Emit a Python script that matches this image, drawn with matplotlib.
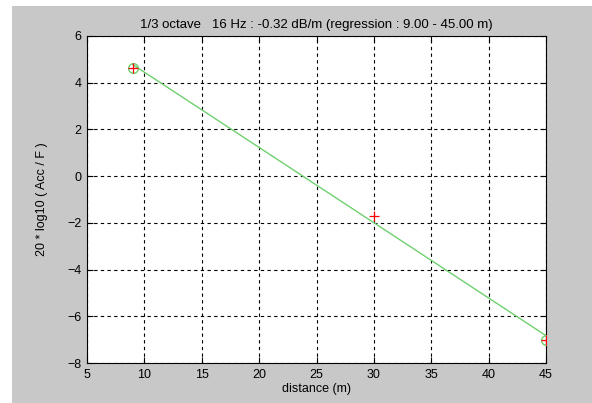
#!/usr/bin/env python

"""Attenuation with distance, 1/3 octave band 16 Hz."""

import numpy as np
import matplotlib.pyplot as plt
from matplotlib.patches import Rectangle

plt.rcParams['font.family'] = ['Liberation Sans', 'DejaVu Sans']
plt.rcParams['font.size'] = 9

# measured levels
distance = np.array([9.0, 30.0, 45.0])
level = np.array([4.65, -1.7, -7.0])

# regression range
reg_lo, reg_hi = 9.0, 45.0

xticks = [5, 10, 15, 20, 25, 30, 35, 40, 45]
yticks = [-8, -6, -4, -2, 0, 2, 4, 6]


def main():
    fig = plt.figure(figsize=(5.92, 4.03), dpi=100, facecolor='white')

    # grey window background with a thin white border on top and left
    fig.patches.append(Rectangle((12 / 592, 0), 1, 1 - 6 / 403,
                                 transform=fig.transFigure,
                                 facecolor='#c8c8c8', edgecolor='none',
                                 zorder=-1))

    ax = fig.add_axes([87 / 592, 1 - 363 / 403, 459 / 592, 327 / 403])

    # linear fit over the regression range
    sel = (distance >= reg_lo) & (distance <= reg_hi)
    slope, icpt = np.polyfit(distance[sel], level[sel], 1)
    xfit = np.array([reg_lo, reg_hi])
    ax.plot(xfit, slope * xfit + icpt, color='#6fd06f', lw=1.0, zorder=2)

    # range end points and data
    ends = np.isin(distance, [reg_lo, reg_hi])
    ax.plot(distance[ends], level[ends], 'o', mfc='none', mec='#6fd06f',
            ms=7, mew=1.0, zorder=3)
    ax.plot(distance, level, '+', color='red', ms=7, mew=0.9, zorder=4)

    ax.set_xlim(5, 45)
    ax.set_ylim(-8, 6)
    ax.set_xticks(xticks)
    ax.set_yticks(yticks)
    ax.grid(True, color='black', linestyle=(0, (3, 3)), linewidth=0.8)
    ax.tick_params(direction='in', top=True, right=True, length=4,
                   labelsize=9, pad=4)
    for s in ax.spines.values():
        s.set_linewidth(0.8)

    ax.set_xlabel('distance (m)', labelpad=2)
    ax.set_ylabel('20 * log10 ( Acc / F )', labelpad=14)
    ax.set_title('1/3 octave   16 Hz : %.2f dB/m (regression : %.2f - %.2f m)'
                 % (slope, reg_lo, reg_hi), fontsize=9.5, pad=6)

    fig.savefig('out.png', dpi=100, facecolor=fig.get_facecolor())


if __name__ == '__main__':
    main()
